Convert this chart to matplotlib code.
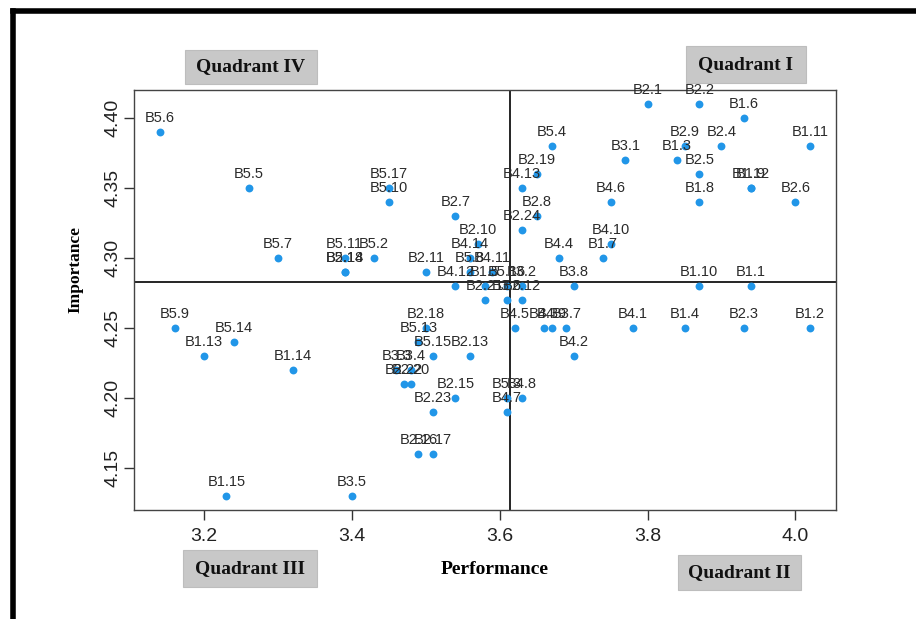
import matplotlib.pyplot as plt
from matplotlib.patches import Rectangle
from matplotlib.lines import Line2D

# importance-performance grid for the B-items
labels = ["B5.6", "B5.5", "B5.7", "B5.11", "B5.2", "B5.18", "B2.14", "B5.17", "B5.10",
          "B2.7", "B2.10", "B4.14", "B2.11", "B5.8", "B4.11", "B4.12", "B1.5", "B5.16",
          "B3.2", "B2.21", "B3.6", "B2.12", "B5.4", "B2.19", "B4.13", "B2.8", "B2.24",
          "B4.4", "B3.8", "B2.1", "B2.2", "B1.6", "B2.9", "B2.4", "B1.11", "B3.1", "B1.3",
          "B2.5", "B1.9", "B1.12", "B1.8", "B2.6", "B4.6", "B4.10", "B1.7", "B1.10", "B1.1",
          "B5.9", "B5.14", "B1.13", "B1.14", "B1.15", "B3.5", "B4.1", "B1.4", "B2.3", "B1.2",
          "B4.5", "B4.3", "B4.9", "B3.7", "B2.18", "B5.13", "B5.15", "B2.13", "B3.3", "B3.4",
          "B2.22", "B2.20", "B2.15", "B2.23", "B5.3", "B4.8", "B4.7", "B2.16", "B2.17", "B4.2"]
performance = [3.14, 3.26, 3.30, 3.39, 3.43, 3.39, 3.39, 3.45, 3.45,
               3.54, 3.57, 3.56, 3.50, 3.56, 3.59, 3.54, 3.58, 3.61,
               3.63, 3.58, 3.61, 3.63, 3.67, 3.65, 3.63, 3.65, 3.63,
               3.68, 3.70, 3.80, 3.87, 3.93, 3.85, 3.90, 4.02, 3.77, 3.84,
               3.87, 3.94, 3.94, 3.87, 4.00, 3.75, 3.75, 3.74, 3.87, 3.94,
               3.16, 3.24, 3.20, 3.32, 3.23, 3.40, 3.78, 3.85, 3.93, 4.02,
               3.62, 3.66, 3.67, 3.69, 3.50, 3.49, 3.51, 3.56, 3.46, 3.48,
               3.47, 3.48, 3.54, 3.51, 3.61, 3.63, 3.61, 3.49, 3.51, 3.70]
importance = [4.39, 4.35, 4.30, 4.30, 4.30, 4.29, 4.29, 4.35, 4.34,
              4.33, 4.31, 4.30, 4.29, 4.29, 4.29, 4.28, 4.28, 4.28,
              4.28, 4.27, 4.27, 4.27, 4.38, 4.36, 4.35, 4.33, 4.32,
              4.30, 4.28, 4.41, 4.41, 4.40, 4.38, 4.38, 4.38, 4.37, 4.37,
              4.36, 4.35, 4.35, 4.34, 4.34, 4.34, 4.31, 4.30, 4.28, 4.28,
              4.25, 4.24, 4.23, 4.22, 4.13, 4.13, 4.25, 4.25, 4.25, 4.25,
              4.25, 4.25, 4.25, 4.25, 4.25, 4.24, 4.23, 4.23, 4.22, 4.22,
              4.21, 4.21, 4.20, 4.19, 4.20, 4.20, 4.19, 4.16, 4.16, 4.23]

perf_mean = 3.614
imp_mean = 4.283

x_ticks = [3.2, 3.4, 3.6, 3.8, 4.0]
y_ticks = [4.15, 4.20, 4.25, 4.30, 4.35, 4.40]

quadrants = ["Quadrant IV", "Quadrant I", "Quadrant III", "Quadrant II"]

W, H = 916, 619
fig = plt.figure(figsize=(W / 100, H / 100), dpi=100)


def fx(px):
    return px / W


def fy(py):
    return 1 - py / H


ax = fig.add_axes([fx(134), fy(510), fx(836) - fx(134), fy(90) - fy(510)])
ax.scatter(performance, importance, s=32, color="#2196e8", zorder=3, linewidths=0)
for lab, x, y in zip(labels, performance, importance):
    ax.annotate(lab, (x, y), xytext=(0, 9.8), textcoords="offset points",
                ha="center", va="center", fontsize=10.5, color="#2a2a2a",
                family="Liberation Sans", zorder=4)

ax.axvline(perf_mean, color="black", lw=1.2, zorder=2)
ax.axhline(imp_mean, color="black", lw=1.2, zorder=2)

ax.set_xlim(3.105, 4.055)
ax.set_ylim(4.120, 4.420)
ax.set_xticks(x_ticks)
ax.set_xticklabels([f"{t:.1f}" for t in x_ticks])
ax.set_yticks(y_ticks)
ax.set_yticklabels([f"{t:.2f}" for t in y_ticks], rotation=90, va="center")
ax.tick_params(length=7, width=1, color="#333333", labelsize=14)
ax.tick_params(axis="x", pad=6)
ax.tick_params(axis="y", pad=2)
for t in ax.get_xticklabels() + ax.get_yticklabels():
    t.set_family(["Liberation Sans Narrow", "Liberation Sans"])
    t.set_color("#222222")
for s in ax.spines.values():
    s.set_color("#444444")
    s.set_linewidth(1)

fig.text(fx(495), fy(569), "Performance", ha="center", va="center",
         family="Liberation Serif", weight="bold", fontsize=14)
fig.text(fx(75), fy(270), "Importance", ha="center", va="center", rotation=90,
         family="Liberation Serif", weight="bold", fontsize=12.5)

# grey quadrant tags outside the plot
boxes = [(185, 50, 317, 84), (686, 46, 806, 83), (183, 550, 317, 587), (678, 555, 801, 590)]
for name, (x0, y0, x1, y1) in zip(quadrants, boxes):
    fig.add_artist(Rectangle((fx(x0), fy(y1)), fx(x1) - fx(x0), fy(y0) - fy(y1),
                             transform=fig.transFigure, facecolor="#c8c8c8",
                             edgecolor="#bdbdbd", lw=0.8))
    fig.text(fx((x0 + x1) / 2), fy((y0 + y1) / 2), name, ha="center", va="center",
             family="Liberation Serif", weight="bold", fontsize=14, color="#111111")

# heavy frame along the top and left edge
fig.add_artist(Line2D([fx(13), 1], [fy(10.5), fy(10.5)], transform=fig.transFigure,
                      color="black", lw=4))
fig.add_artist(Line2D([fx(13), fx(13)], [fy(10.5), 0], transform=fig.transFigure,
                      color="black", lw=4))

fig.savefig("out.png", dpi=100)
